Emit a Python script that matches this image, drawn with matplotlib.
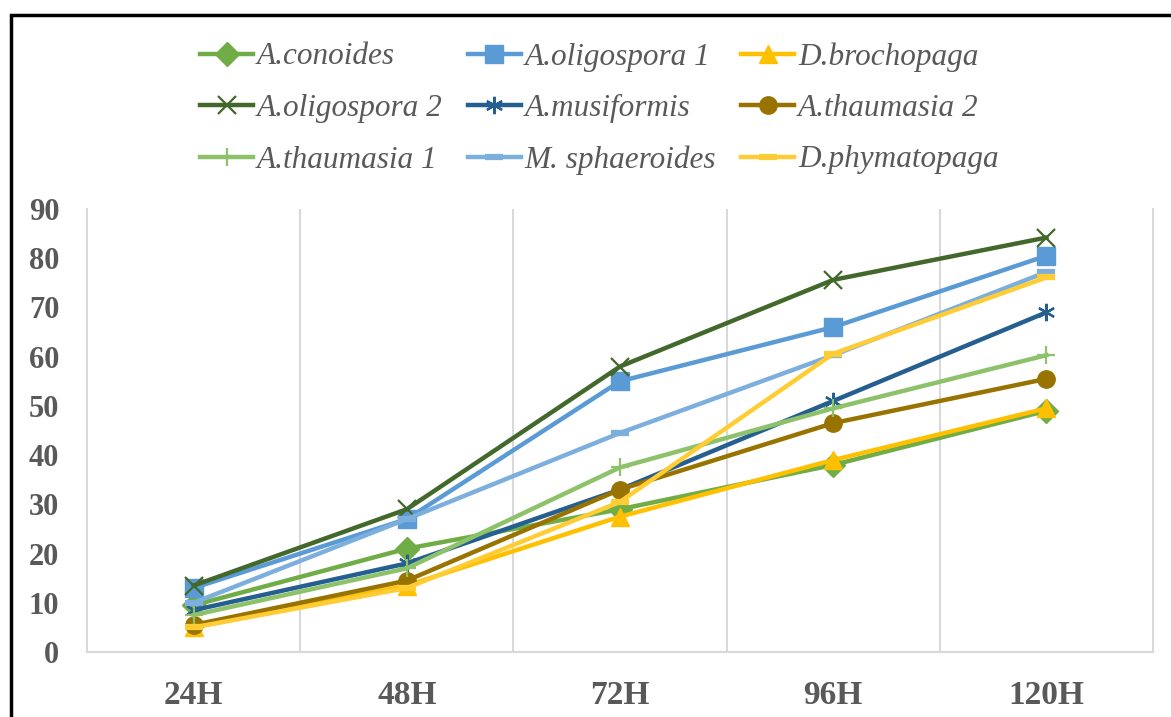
import numpy as np
import matplotlib.pyplot as plt
from matplotlib.patches import Rectangle

# time points and % values per strain
hours = ["24H", "48H", "72H", "96H", "120H"]

a_conoides = [9.5, 21, 29, 38, 49]
a_oligospora_1 = [13, 27, 55, 66, 80.5]
d_brochopaga = [5, 13.5, 27.5, 39, 49.5]
a_oligospora_2 = [13.5, 29, 58, 75.6, 84.2]
a_musiformis = [8.5, 18, 33, 51, 69]
a_thaumasia_2 = [5.5, 14.5, 33, 46.5, 55.5]
a_thaumasia_1 = [7.5, 17, 37.5, 49.5, 60.3]
m_sphaeroides = [10, 27, 44.5, 60.3, 77.2]
d_phymatopaga = [5, 13, 30.5, 60.6, 76.1]

series = [
    ("A.conoides", a_conoides, "#70AD47", "D", {}),
    ("A.oligospora 1", a_oligospora_1, "#5B9BD5", "s", {}),
    ("D.brochopaga", d_brochopaga, "#FFC000", "^", {}),
    ("A.oligospora 2", a_oligospora_2, "#43682B", "x", {"mew": 1.6}),
    ("A.musiformis", a_musiformis, "#255E91", (6, 2, 0), {"mew": 1.6}),
    ("A.thaumasia 2", a_thaumasia_2, "#997300", "o", {}),
    ("A.thaumasia 1", a_thaumasia_1, "#8DC26B", "+", {"mew": 1.6}),
    ("M. sphaeroides", m_sphaeroides, "#7CAFDD", "_", {"mew": 4.5}),
    ("D.phymatopaga", d_phymatopaga, "#FFCD33", "_", {"mew": 4.5}),
]

plt.rcParams["font.family"] = ["Liberation Serif", "DejaVu Serif"]

fig = plt.figure(figsize=(11.71, 7.17), dpi=100)
ax = fig.add_axes([87 / 1171, 1 - 652 / 717, (1153 - 87) / 1171, (652 - 209) / 717])

x = np.arange(len(hours))
handles = {}
for name, vals, color, marker, kw in series:
    ln, = ax.plot(x, vals, color=color, lw=3.2, marker=marker, ms=12.5,
                  markerfacecolor=color, markeredgecolor=color,
                  solid_joinstyle="round", label=name, **kw)
    handles[name] = ln

ax.set_xlim(-0.5, len(hours) - 0.5)
ax.set_ylim(0, 90)
ax.set_yticks(np.arange(0, 91, 10))
ax.set_xticks(x)
ax.set_xticklabels(hours)

# vertical gridlines between categories
for b in np.arange(0.5, len(hours) - 0.5, 1):
    ax.axvline(b, color="#D9D9D9", lw=1.5, zorder=0)

for side in ["left", "right", "bottom"]:
    ax.spines[side].set_color("#D9D9D9")
    ax.spines[side].set_linewidth(1.5)
ax.spines["top"].set_visible(False)

ax.tick_params(axis="both", length=0, colors="#595959")
ax.tick_params(axis="y", labelsize=22, pad=20)
ax.tick_params(axis="x", labelsize=24, pad=20)
for lbl in ax.get_xticklabels() + ax.get_yticklabels():
    lbl.set_fontweight("bold")

# legend is filled column by column, so reorder for row-wise reading
order = ["A.conoides", "A.oligospora 2", "A.thaumasia 1",
         "A.oligospora 1", "A.musiformis", "M. sphaeroides",
         "D.brochopaga", "A.thaumasia 2", "D.phymatopaga"]
leg = fig.legend([handles[n] for n in order], order, ncol=3,
                 loc="upper left", bbox_to_anchor=(200 / 1171, 1 - 42 / 717),
                 frameon=False, borderpad=0, borderaxespad=0,
                 handlelength=1.7, handletextpad=0.12, columnspacing=0.8,
                 labelspacing=0.72, prop={"style": "italic", "size": 22.5})
for t in leg.get_texts():
    t.set_color("#595959")

# outer frame
fig.patches.append(Rectangle((10.5 / 1171, -0.1), 1.2, 1 - 14.5 / 717 + 0.1,
                             transform=fig.transFigure, fill=False,
                             edgecolor="black", lw=2.5))

fig.savefig("out.png", dpi=100)
